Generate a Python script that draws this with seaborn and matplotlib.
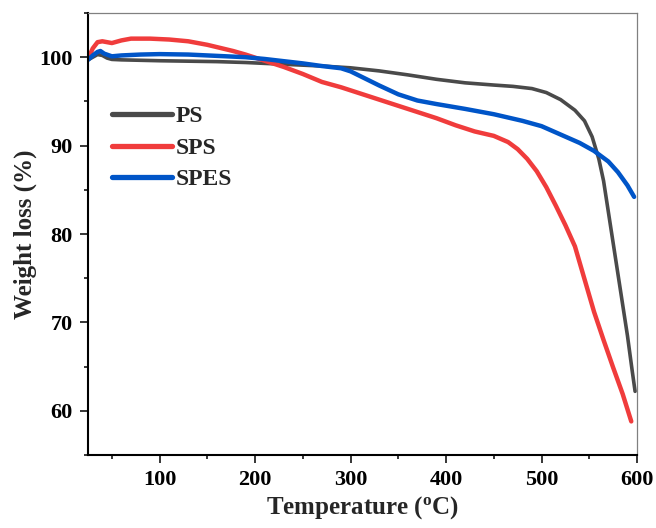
import matplotlib
matplotlib.use("Agg")
import matplotlib.pyplot as plt
from matplotlib.ticker import MultipleLocator
import seaborn as sns
import pandas as pd

# ---- data ----
ps_temp = [25, 30, 35, 40, 45, 50, 60, 80, 100, 130, 160, 190, 210, 240, 270, 300,
           330, 360, 390, 420, 450, 470, 490, 505, 520, 535, 545, 553, 560, 565,
           570, 575, 580, 585, 590, 595, 598]
ps_weight = [99.7, 100.0, 100.3, 100.2, 99.9, 99.75, 99.7, 99.65, 99.6, 99.55, 99.5,
             99.4, 99.3, 99.15, 99.0, 98.8, 98.45, 98.0, 97.5, 97.1, 96.85, 96.7,
             96.45, 96.0, 95.2, 94.0, 92.8, 91.0, 88.5, 86.0, 82.5, 79.0, 75.5,
             72.0, 68.5, 64.5, 62.2]

sps_temp = [25, 30, 35, 40, 50, 60, 70, 90, 110, 130, 150, 177, 190, 210, 230, 250,
            270, 290, 310, 330, 350, 370, 390, 410, 430, 450, 465, 475, 485, 495,
            505, 515, 525, 535, 545, 555, 565, 575, 585, 594]
sps_weight = [99.8, 101.0, 101.7, 101.8, 101.6, 101.9, 102.1, 102.1, 102.0, 101.8,
              101.4, 100.7, 100.3, 99.6, 98.9, 98.1, 97.2, 96.6, 95.9, 95.2, 94.5,
              93.8, 93.1, 92.3, 91.6, 91.1, 90.4, 89.6, 88.5, 87.1, 85.3, 83.2,
              81.0, 78.6, 74.9, 71.2, 68.0, 64.9, 61.9, 58.8]

spes_temp = [25, 30, 35, 38, 42, 50, 60, 80, 100, 130, 160, 190, 210, 230, 250, 270,
             290, 300, 315, 330, 350, 370, 390, 420, 450, 480, 500, 520, 540, 555,
             570, 580, 590, 597]
spes_weight = [99.7, 100.2, 100.6, 100.7, 100.4, 100.1, 100.2, 100.3, 100.35, 100.3,
               100.15, 100.0, 99.8, 99.55, 99.3, 99.0, 98.75, 98.4, 97.6, 96.8, 95.8,
               95.1, 94.7, 94.15, 93.55, 92.8, 92.2, 91.25, 90.3, 89.4, 88.2, 87.0,
               85.5, 84.2]

series_names = ["PS", "SPS", "SPES"]
series_colors = ["#4a4a4a", "#f03c3c", "#0055c8"]
x_ticks = [100, 200, 300, 400, 500, 600]
y_ticks = [60, 70, 80, 90, 100]

# ---- style ----
sns.set_style("ticks")
plt.rcParams["font.family"] = ["Liberation Serif", "DejaVu Serif"]
plt.rcParams["font.weight"] = "bold"
plt.rcParams["mathtext.fontset"] = "custom"
plt.rcParams["mathtext.rm"] = "Liberation Serif:bold"
plt.rcParams["mathtext.it"] = "Liberation Serif:bold"
plt.rcParams["mathtext.bf"] = "Liberation Serif:bold"

fig = plt.figure(figsize=(6.56, 5.28), dpi=100)
ax = fig.add_axes([88 / 656, 1 - 455 / 528, 549 / 656, 442 / 528])

data = [(ps_temp, ps_weight), (sps_temp, sps_weight), (spes_temp, spes_weight)]
widths = [2.6, 3.2, 3.2]
for (t, w), name, col, lw in zip(data, series_names, series_colors, widths):
    df = pd.DataFrame({"Temperature": t, "Weight": w})
    sns.lineplot(data=df, x="Temperature", y="Weight", ax=ax, color=col,
                 linewidth=lw, label=name, sort=False, estimator=None)

ax.set_xlim(25, 600)
ax.set_ylim(55, 105)
ax.set_xticks(x_ticks)
ax.set_yticks(y_ticks)
ax.xaxis.set_minor_locator(MultipleLocator(50))
ax.yaxis.set_minor_locator(MultipleLocator(5))
ax.tick_params(axis="both", which="major", direction="out", length=5.5, width=1.1,
               labelsize=16, colors="black", pad=5.5)
ax.tick_params(axis="both", which="minor", direction="out", length=3, width=1.1,
               colors="black")
ax.tick_params(top=False, right=False, which="both")
for lab in ax.get_xticklabels() + ax.get_yticklabels():
    lab.set_fontweight("bold")

for side in ["left", "bottom"]:
    ax.spines[side].set_color("black")
    ax.spines[side].set_linewidth(1.5)
for side in ["top", "right"]:
    ax.spines[side].set_visible(True)
    ax.spines[side].set_color("#808080")
    ax.spines[side].set_linewidth(0.9)

ax.set_xlabel(r"Temperature ($^{\mathrm{o}}$C)", fontsize=18, fontweight="bold",
              labelpad=3)
ax.set_ylabel("Weight loss (%)", fontsize=18, fontweight="bold", labelpad=2)

leg = ax.legend(loc="upper left", bbox_to_anchor=(24 / 549, 0.79), frameon=False,
                handlelength=2.55, handletextpad=0.15, labelspacing=0.42,
                borderpad=0, borderaxespad=0, prop={"weight": "bold", "size": 17})
for h in leg.get_lines():
    h.set_linewidth(3.8)
    h.set_solid_capstyle("round")

fig.savefig("out.png", dpi=100)
